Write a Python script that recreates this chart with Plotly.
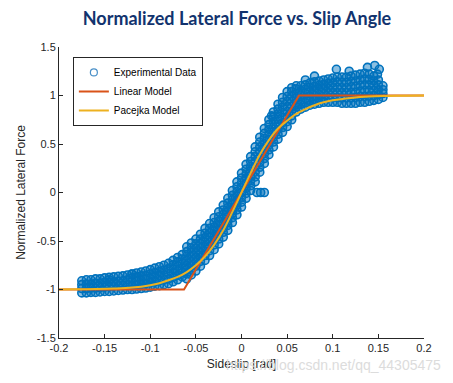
import plotly.graph_objects as go

# ---------------- data ----------------
exp_col_x = [
    -0.175, -0.170, -0.165, -0.160, -0.155, -0.150, -0.145, -0.140, -0.135, -0.130,
    -0.125, -0.120, -0.115, -0.110, -0.105, -0.100, -0.095, -0.090, -0.085, -0.080,
    -0.075, -0.070, -0.065, -0.060, -0.055, -0.050, -0.045, -0.040, -0.035, -0.030,
    -0.025, -0.020, -0.015, -0.010, -0.005, 0.000, 0.005, 0.010, 0.015, 0.020,
    0.025, 0.030, 0.035, 0.040, 0.045, 0.050, 0.055, 0.060, 0.065, 0.070,
    0.075, 0.080, 0.085, 0.090, 0.095, 0.100, 0.105, 0.110, 0.115, 0.120,
    0.125, 0.130, 0.135, 0.140, 0.145, 0.150, 0.155,
]
exp_col_y = [
    [-1.035, -0.99, -0.95, -0.91],
    [-1.035, -0.99, -0.945, -0.90],
    [-1.03, -0.985, -0.945, -0.90],
    [-1.03, -0.985, -0.935, -0.89],
    [-1.025, -0.98, -0.935, -0.89],
    [-1.02, -0.975, -0.925, -0.88],
    [-1.02, -0.97, -0.925, -0.875],
    [-1.015, -0.965, -0.92, -0.87],
    [-1.01, -0.96, -0.915, -0.865],
    [-1.005, -0.955, -0.91, -0.86],
    [-1.0, -0.95, -0.90, -0.85],
    [-1.0, -0.96, -0.92, -0.88, -0.84],
    [-0.995, -0.955, -0.91, -0.87, -0.83],
    [-0.99, -0.95, -0.905, -0.86, -0.82],
    [-0.985, -0.94, -0.895, -0.855, -0.81],
    [-0.975, -0.93, -0.885, -0.84, -0.795],
    [-0.965, -0.92, -0.87, -0.825, -0.78],
    [-0.96, -0.91, -0.86, -0.815, -0.765],
    [-0.95, -0.90, -0.85, -0.80, -0.75],
    [-0.94, -0.89, -0.835, -0.785, -0.73],
    [-0.92, -0.875, -0.83, -0.79, -0.745, -0.70],
    [-0.90, -0.855, -0.81, -0.76, -0.715, -0.67],
    [-0.87, -0.825, -0.78, -0.73, -0.685, -0.64],
    [-0.89, -0.84, -0.795, -0.75, -0.70, -0.655, -0.61, -0.56],
    [-0.85, -0.80, -0.755, -0.71, -0.66, -0.615, -0.57, -0.52],
    [-0.81, -0.76, -0.715, -0.67, -0.62, -0.575, -0.53, -0.48],
    [-0.76, -0.71, -0.665, -0.62, -0.57, -0.525, -0.48, -0.43],
    [-0.70, -0.65, -0.605, -0.56, -0.51, -0.465, -0.42, -0.37],
    [-0.65, -0.60, -0.555, -0.51, -0.46, -0.415, -0.37, -0.32],
    [-0.59, -0.54, -0.495, -0.45, -0.40, -0.355, -0.31, -0.26],
    [-0.53, -0.48, -0.435, -0.39, -0.34, -0.295, -0.25, -0.20],
    [-0.46, -0.41, -0.365, -0.32, -0.27, -0.225, -0.18, -0.13],
    [-0.39, -0.34, -0.295, -0.25, -0.20, -0.155, -0.11, -0.06],
    [-0.31, -0.26, -0.215, -0.17, -0.12, -0.075, -0.03, 0.02],
    [-0.23, -0.18, -0.13, -0.085, -0.035, 0.01, 0.06, 0.11],
    [-0.15, -0.10, -0.05, 0.0, 0.05, 0.10, 0.15, 0.20],
    [-0.06, -0.01, 0.04, 0.09, 0.14, 0.19, 0.24, 0.29],
    [0.02, 0.07, 0.12, 0.17, 0.22, 0.27, 0.32, 0.37],
    [0.11, 0.16, 0.21, 0.265, 0.32, 0.37, 0.42, 0.47],
    [0.21, 0.26, 0.31, 0.36, 0.42, 0.47, 0.52, 0.57],
    [0.30, 0.35, 0.40, 0.455, 0.505, 0.56, 0.61, 0.66],
    [0.39, 0.44, 0.49, 0.545, 0.595, 0.65, 0.70, 0.75],
    [0.47, 0.52, 0.57, 0.625, 0.675, 0.73, 0.78, 0.83],
    [0.55, 0.60, 0.65, 0.705, 0.755, 0.81, 0.86, 0.91],
    [0.62, 0.67, 0.72, 0.775, 0.825, 0.88, 0.93, 0.98],
    [0.68, 0.73, 0.78, 0.835, 0.885, 0.94, 0.99, 1.04],
    [0.75, 0.79, 0.84, 0.89, 0.94, 0.99, 1.04, 1.08],
    [0.83, 0.88, 0.925, 0.975, 1.02, 1.07, 1.10],
    [0.86, 0.91, 0.955, 1.005, 1.05, 1.10],
    [0.88, 0.925, 0.97, 1.02, 1.065, 1.11],
    [0.90, 0.945, 0.99, 1.04, 1.085, 1.13],
    [0.91, 0.955, 1.0, 1.05, 1.095, 1.14],
    [0.92, 0.965, 1.01, 1.06, 1.105, 1.15],
    [0.93, 0.975, 1.02, 1.07, 1.115, 1.16],
    [0.93, 0.98, 1.03, 1.075, 1.125, 1.17],
    [0.93, 0.98, 1.03, 1.08, 1.13, 1.18],
    [0.93, 0.98, 1.03, 1.085, 1.14, 1.19],
    [0.92, 0.975, 1.03, 1.08, 1.135, 1.19],
    [0.92, 0.975, 1.03, 1.08, 1.135, 1.19],
    [0.92, 0.975, 1.03, 1.09, 1.145, 1.20],
    [0.92, 0.98, 1.035, 1.095, 1.15, 1.21],
    [0.93, 0.99, 1.045, 1.105, 1.16, 1.22],
    [0.93, 0.99, 1.05, 1.11, 1.17, 1.23],
    [0.94, 0.995, 1.05, 1.11, 1.165, 1.22],
    [0.95, 1.0, 1.05, 1.10, 1.15, 1.20],
    [0.96, 1.01, 1.06, 1.11, 1.16],
    [0.98, 1.02, 1.06, 1.10],
]
# scattered outlying samples
out_x = [0.104, 0.118, 0.138, 0.146, 0.151, 0.149, 0.080, 0.070, 0.033, 0.017, 0.021, 0.025, -0.145, -0.120]
out_y = [1.27, 1.25, 1.29, 1.31, 1.27, 1.22, 1.20, 1.16, 0.79, 0.0, 0.0, 0.0, -0.90, -0.84]

lin_x = [-0.2, -0.063, 0.063, 0.2]
lin_y = [-1.0, -1.0, 1.0, 1.0]

pac_x = [-0.20, -0.18, -0.16, -0.14, -0.12, -0.10, -0.09, -0.08, -0.07, -0.06, -0.05,
         -0.04, -0.03, -0.02, -0.01, 0.0, 0.01, 0.02, 0.03, 0.04, 0.05, 0.06, 0.07,
         0.08, 0.09, 0.10, 0.12, 0.14, 0.16, 0.18, 0.20]
pac_y = [-1.0, -0.998, -0.995, -0.99, -0.98, -0.955, -0.935, -0.905, -0.87, -0.82, -0.75,
         -0.66, -0.54, -0.39, -0.2, 0.0, 0.2, 0.39, 0.54, 0.66, 0.74, 0.81, 0.86,
         0.9, 0.93, 0.95, 0.975, 0.99, 0.995, 0.998, 1.0]

x_ticks = [-0.2, -0.15, -0.1, -0.05, 0, 0.05, 0.1, 0.15, 0.2]
x_tick_text = ["-0.2", "-0.15", "-0.1", "-0.05", "0", "0.05", "0.1", "0.15", "0.2"]
y_ticks = [-1.5, -1, -0.5, 0, 0.5, 1, 1.5]
y_tick_text = ["-1.5", "-1", "-0.5", "0", "0.5", "1", "1.5"]

# ---------------- figure ----------------
exp_x, exp_y = [], []
for cx, ys in zip(exp_col_x, exp_col_y):
    for yv in ys:
        exp_x.append(cx)
        exp_y.append(yv)
exp_x += out_x
exp_y += out_y

BLUE = "#0072BD"
RED = "#D95319"
YEL = "#EDB120"
AX = "#262626"
FONT = "Arial, Liberation Sans, sans-serif"

fig = go.Figure()
# legend entry for the samples (open circle, as in the original legend)
fig.add_trace(go.Scatter(
    x=[None], y=[None], mode="markers", name="Experimental Data",
    marker=dict(symbol="circle-open", size=7, color="#4a90c8", line=dict(width=1.2)),
))
fig.add_trace(go.Scatter(
    x=exp_x, y=exp_y, mode="markers", name="Experimental Data", showlegend=False,
    marker=dict(symbol="circle", size=8, color="rgba(0,114,189,0.45)",
                line=dict(width=1.6, color=BLUE)),
))
fig.add_trace(go.Scatter(x=lin_x, y=lin_y, mode="lines", name="Linear Model",
                         line=dict(color=RED, width=2)))
fig.add_trace(go.Scatter(x=pac_x, y=pac_y, mode="lines", name="Pacejka Model",
                         line=dict(color=YEL, width=2, shape="spline")))

axis_common = dict(
    showline=True, linecolor=AX, linewidth=1, mirror=False,
    ticks="inside", ticklen=4, tickcolor=AX, tickwidth=1,
    showgrid=False, zeroline=False,
    tickfont=dict(family=FONT, size=11, color=AX),
)

fig.update_layout(
    width=453, height=383,
    margin=dict(l=48, r=37, t=39, b=53),
    paper_bgcolor="white", plot_bgcolor="white",
    showlegend=True,
    title=dict(
        text="<b>Normalized Lateral Force vs. Slip Angle</b>",
        x=229 / 453, xref="container", xanchor="center",
        y=1 - 11 / 383, yref="container", yanchor="middle",
        font=dict(family="Lato, Roboto, sans-serif", size=18, color="#12336e"),
    ),
    legend=dict(
        x=0.038, y=0.966, xanchor="left", yanchor="top",
        bgcolor="white", bordercolor=AX, borderwidth=1,
        font=dict(family=FONT, size=10, color="#000000"),
        tracegroupgap=0, itemwidth=30,
    ),
    xaxis=dict(range=[-0.2, 0.2], tickvals=x_ticks, ticktext=x_tick_text,
               title=dict(text="Sideslip [rad]", standoff=6,
                          font=dict(family=FONT, size=12, color=AX)),
               **axis_common),
    yaxis=dict(range=[-1.5, 1.5], tickvals=y_ticks, ticktext=y_tick_text,
               title=dict(text="Normalized Lateral Force", standoff=8,
                          font=dict(family=FONT, size=12, color=AX)),
               **axis_common),
    annotations=[dict(
        text="https://blog.csdn.net/qq_44305475", xref="paper", yref="paper",
        x=1.052, y=-0.093, xanchor="right", yanchor="middle", showarrow=False,
        font=dict(family=FONT, size=14, color="#dcdcdc"),
    )],
)

fig.write_html("out.html")
